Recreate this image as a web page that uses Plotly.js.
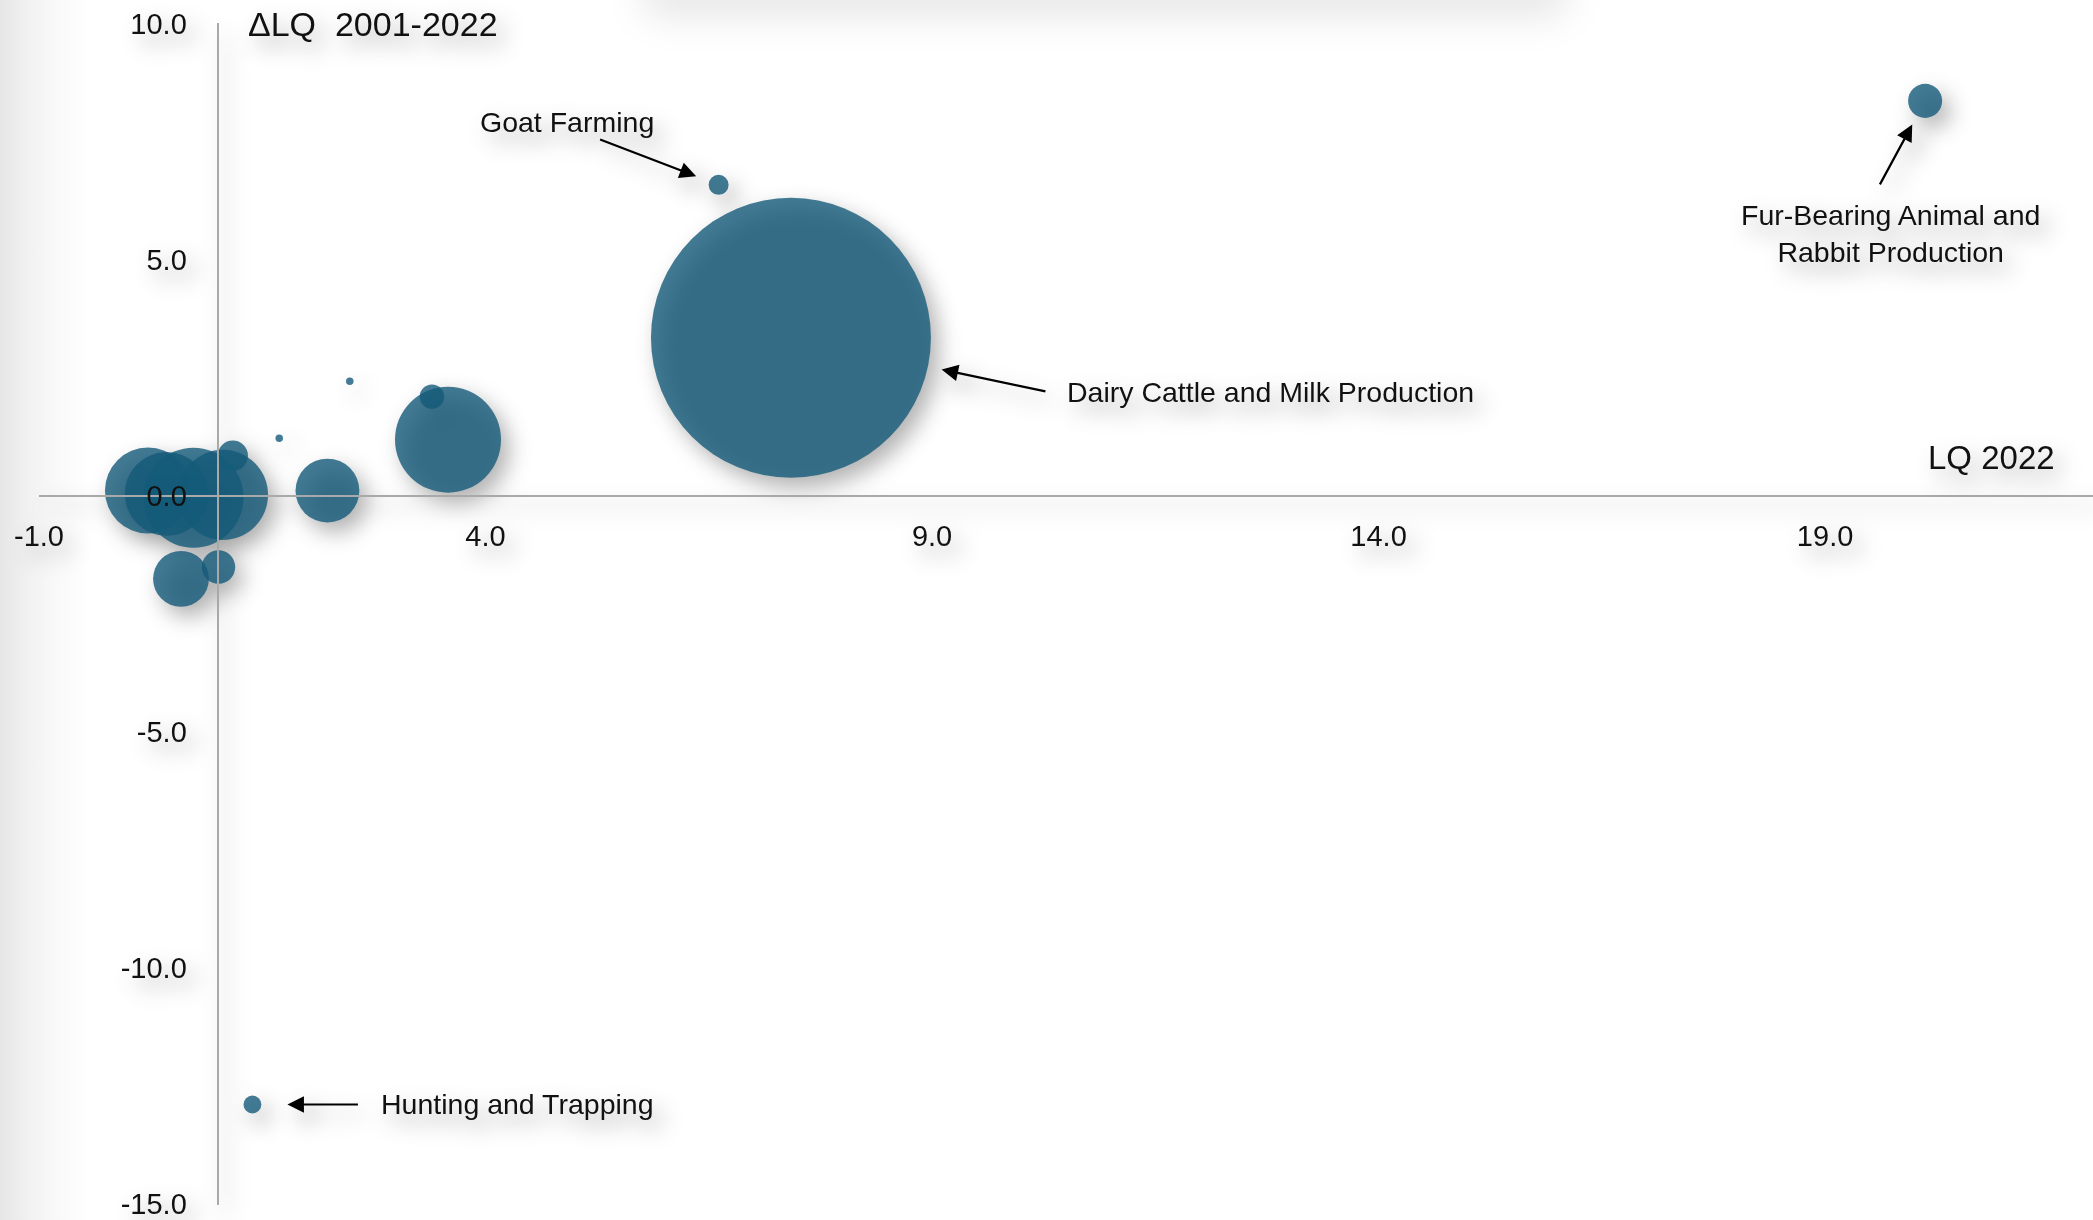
<!DOCTYPE html>
<html>
<head>
<meta charset="utf-8">
<script src="https://cdn.plot.ly/plotly-3.0.1.min.js"></script>
<style>
  html, body {
    margin: 0;
    padding: 0;
    width: 2093px;
    height: 1220px;
    overflow: hidden;
    background: linear-gradient(to right, #e6e6e6 0px, #f1f1f1 28px, #f9f9f9 55px, #ffffff 90px);
  }
  #haze {
    position: absolute;
    left: 640px;
    top: -34px;
    width: 930px;
    height: 52px;
    background: rgba(0, 0, 0, 0.09);
    filter: blur(18px);
    border-radius: 30px;
  }
  #chart {
    position: absolute;
    left: 0;
    top: 0;
    z-index: 1;
  }
  /* soft offset shadow under every drawn element */
  #chart .main-svg {
    filter: drop-shadow(8px 10px 11px rgba(0, 0, 0, 0.38));
  }
</style>
</head>
<body>
<div id="haze"></div>
<div id="chart"></div>
<script>
// Location quotient in 2022 (horizontal) and its change 2001-2022 (vertical)
const lq2022 = [7.42, 6.61, 20.12, 1.39, 3.58, 3.40, 2.48, 1.69, 2.23, 0.22, 0.43, 0.73, 1.06, 1.17, 0.59, 1.01];
const deltaLq = [3.35, 6.59, 8.37, -12.90, 1.19, 2.10, 2.43, 1.22, 0.11, 0.11, 0.04, -0.04, 0.02, 0.85, -1.76, -1.51];
// Employment (bubble area)
const employment = [1960, 10, 29, 8, 281, 15, 1.4, 1.4, 102, 185, 176, 250, 203, 23, 78, 28];

// Labelled industries: index into the series above and their label text
const calloutIndex = [1, 0, 2, 3];
const calloutText = [
  'Goat Farming',
  'Dairy Cattle and Milk Production',
  'Fur-Bearing Animal and<br>Rabbit Production',
  'Hunting and Trapping'
];

// Axis ticks
const xTickVals = [-1, 4, 9, 14, 19];
const yTickVals = [-15, -10, -5, 0, 5, 10];
const xRange = [-1, 22];
const yRange = [-15.03, 10.02];
const xCross = 1;      // vertical axis sits at LQ = 1
const yCross = 0;      // horizontal axis sits at zero change
const axisTitleX = 'LQ 2022';
const axisTitleY = 'ΔLQ  2001-2022';

// Arrow and label placement (pixels, relative to the labelled bubble)
const calloutStyle = [
  {ax: -120, ay: -46, standoff: 24, xshift: -152, yshift: 63, xanchor: 'center'},
  {ax: 256, ay: 54, standoff: 154, xshift: 274, yshift: -54, xanchor: 'left'},
  {ax: -46, ay: 85, standoff: 27, xshift: -35, yshift: -133, xanchor: 'center'},
  {ax: 107, ay: 0, standoff: 35, xshift: 127, yshift: 0, xanchor: 'left'}
];

const FONT = 'Liberation Sans, Arial, Helvetica, sans-serif';
const TEXT = '#111111';

const fmt = function (v) { return v.toFixed(1); };

const trace = {
  type: 'scatter',
  mode: 'markers',
  x: lq2022,
  y: deltaLq,
  hoverinfo: 'x+y',
  marker: {
    size: employment,
    sizemode: 'area',
    sizeref: 0.05,
    color: 'rgb(20, 90, 121)',
    opacity: 0.8,
    line: {width: 0}
  }
};

const annotations = [];

calloutIndex.forEach(function (idx, k) {
  const s = calloutStyle[k];
  annotations.push({
    x: lq2022[idx], y: deltaLq[idx], xref: 'x', yref: 'y',
    text: '', showarrow: true,
    ax: s.ax, ay: s.ay, standoff: s.standoff,
    arrowhead: 2, arrowsize: 1.5, arrowwidth: 2.2, arrowcolor: '#000000'
  });
  annotations.push({
    x: lq2022[idx], y: deltaLq[idx], xref: 'x', yref: 'y',
    text: calloutText[k], showarrow: false,
    xanchor: s.xanchor, yanchor: 'middle', align: 'center',
    xshift: s.xshift, yshift: s.yshift,
    font: {family: FONT, size: 28.5, color: TEXT}
  });
});

// Axis titles written beside the axis lines
annotations.push({
  x: xCross, y: yTickVals[yTickVals.length - 1], xref: 'x', yref: 'y',
  text: axisTitleY, showarrow: false,
  xanchor: 'left', yanchor: 'middle', xshift: 28,
  font: {family: FONT, size: 34, color: TEXT}
});
annotations.push({
  x: 1, y: yCross, xref: 'paper', yref: 'y',
  text: axisTitleX, showarrow: false,
  xanchor: 'right', yanchor: 'bottom', xshift: -36, yshift: 18,
  font: {family: FONT, size: 33, color: TEXT}
});

const layout = {
  width: 2093,
  height: 1220,
  margin: {l: 39, r: 0, t: 23, b: 15},
  paper_bgcolor: 'rgba(0,0,0,0)',
  plot_bgcolor: 'rgba(0,0,0,0)',
  showlegend: false,
  font: {family: FONT, color: TEXT},
  xaxis: {
    range: xRange,
    tickmode: 'array', tickvals: xTickVals, ticktext: xTickVals.map(fmt),
    showgrid: false, zeroline: false,
    showline: true, linecolor: '#a9a9a9', linewidth: 2,
    ticks: '',
    anchor: 'free',
    position: (yCross - yRange[0]) / (yRange[1] - yRange[0]),
    ticklabelstandoff: 14,
    tickfont: {family: FONT, size: 29, color: TEXT},
    layer: 'above traces'
  },
  yaxis: {
    range: yRange,
    tickmode: 'array', tickvals: yTickVals, ticktext: yTickVals.map(fmt),
    showgrid: false, zeroline: false,
    showline: true, linecolor: '#a9a9a9', linewidth: 2,
    ticks: '',
    anchor: 'free',
    position: (xCross - xRange[0]) / (xRange[1] - xRange[0]),
    ticklabelstandoff: 24,
    tickfont: {family: FONT, size: 29, color: TEXT},
    layer: 'above traces'
  },
  annotations: annotations
};

Plotly.newPlot('chart', [trace], layout, {displayModeBar: false, staticPlot: true});
</script>
</body>
</html>
